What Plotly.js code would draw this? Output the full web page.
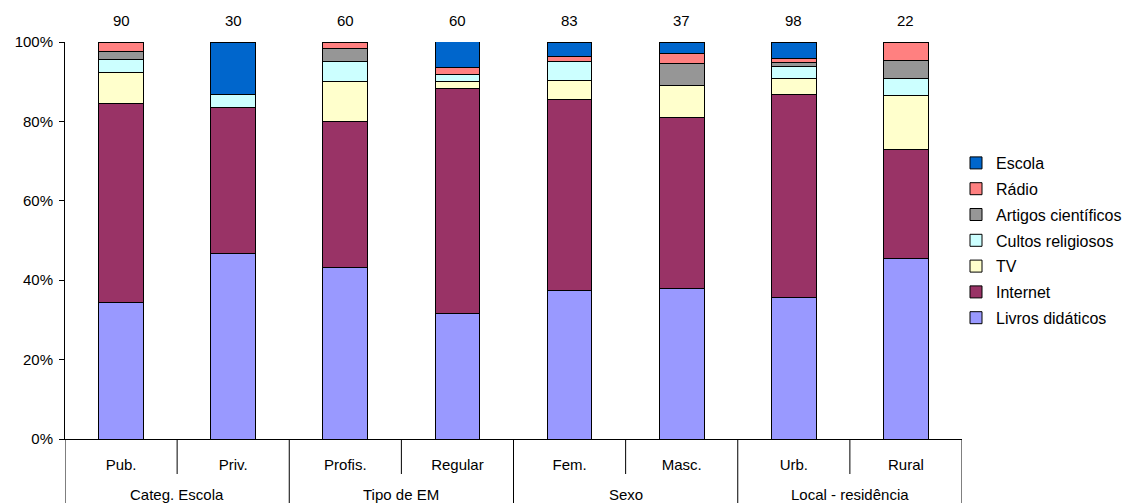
<!DOCTYPE html>
<html>
<head>
<meta charset="utf-8">
<script src="https://cdn.plot.ly/plotly-3.0.1.min.js"></script>
<style>
  html, body { margin: 0; padding: 0; background: #fff; }
  #chart { width: 1123px; height: 503px; }
</style>
</head>
<body>
<div id="chart"></div>
<script>
// Categories on the x axis and the group each pair belongs to
const categories = ['Pub.', 'Priv.', 'Profis.', 'Regular', 'Fem.', 'Masc.', 'Urb.', 'Rural'];
const groups = ['Categ. Escola', 'Tipo de EM', 'Sexo', 'Local - residência'];
const counts = [90, 30, 60, 60, 83, 37, 98, 22];

// Share of answers (%) per source of information
const livros   = [34.4, 46.7, 43.3, 31.7, 37.3, 37.8, 35.7, 45.5];
const internet = [50.0, 36.7, 36.7, 56.7, 48.2, 43.2, 51.0, 27.3];
const tv       = [7.8, 0, 10.0, 1.7, 4.8, 8.1, 4.1, 13.6];
const cultos   = [3.3, 3.3, 5.0, 1.7, 4.8, 0, 3.1, 4.5];
const artigos  = [2.2, 0, 3.3, 0, 0, 5.4, 1.0, 4.5];
const radio    = [2.2, 0, 1.7, 1.7, 1.2, 2.7, 1.0, 4.5];
const escola   = [0, 13.3, 0, 6.7, 3.6, 2.7, 4.1, 0];

const series = [
  { name: 'Livros didáticos', y: livros, color: '#9999FF' },
  { name: 'Internet', y: internet, color: '#993366' },
  { name: 'TV', y: tv, color: '#FFFFCC' },
  { name: 'Cultos religiosos', y: cultos, color: '#CCFFFF' },
  { name: 'Artigos científicos', y: artigos, color: '#969696' },
  { name: 'Rádio', y: radio, color: '#FF8080' },
  { name: 'Escola', y: escola, color: '#0066CC' }
];

const FONT = 'Liberation Sans, Arial, sans-serif';

const traces = series.map((s, i) => ({
  type: 'bar',
  name: s.name,
  x: categories,
  y: s.y,
  width: 0.4,
  legendgroup: 'g' + i,
  legendrank: 100 - i,           // top of the stack first in the legend
  marker: { color: s.color, line: { color: '#000', width: 1 } },
  hoverinfo: 'skip'
}));

// Pixel geometry of the plot frame
const plotH = 503 - 42 - 64;
const px = v => v / plotH;

const shapes = [];
// Separators below the axis: short between categories, full between groups
for (let i = 0; i <= categories.length; i++) {
  const isGroupEdge = i % 2 === 0;
  shapes.push({
    type: 'line', xref: 'x', yref: 'paper',
    x0: i - 0.5, x1: i - 0.5,
    y0: 0, y1: isGroupEdge ? -px(66) : -px(35),
    line: { color: '#000', width: 1 }
  });
}

const annotations = [];
groups.forEach((g, i) => {
  annotations.push({
    xref: 'x', yref: 'paper', x: 2 * i + 0.5, y: -px(55),
    text: g, showarrow: false, yanchor: 'middle', xanchor: 'center',
    font: { family: FONT, size: 15, color: '#000' }
  });
});
categories.forEach((c, i) => {
  annotations.push({
    xref: 'x', yref: 'paper', x: c, y: 1 + px(22),
    text: String(counts[i]), showarrow: false, yanchor: 'middle', xanchor: 'center',
    font: { family: FONT, size: 15, color: '#000' }
  });
});

const layout = {
  width: 1123, height: 503,
  margin: { l: 65, r: 161, t: 42, b: 64, pad: 0, autoexpand: false },
  paper_bgcolor: '#fff', plot_bgcolor: '#fff',
  barmode: 'stack',
  font: { family: FONT, size: 15, color: '#000' },
  showlegend: true,
  legend: {
    xref: 'container', yref: 'container',
    x: 956 / 1123, y: 1 - 146 / 503, xanchor: 'left', yanchor: 'top',
    traceorder: 'grouped', tracegroupgap: 2,
    font: { family: FONT, size: 16, color: '#000' },
    bgcolor: 'rgba(0,0,0,0)'
  },
  xaxis: {
    type: 'category',
    range: [-0.5, categories.length - 0.5],
    showline: true, linecolor: '#000', linewidth: 1,
    ticks: '', ticklabelstandoff: 12,
    showgrid: false, zeroline: false, fixedrange: true,
    tickfont: { family: FONT, size: 15, color: '#000' }
  },
  yaxis: {
    range: [0, 100], dtick: 20, ticksuffix: '%',
    showline: true, linecolor: '#000', linewidth: 1,
    ticks: 'outside', ticklen: 5, tickcolor: '#000',
    ticklabelstandoff: 3,
    showgrid: false, zeroline: false, fixedrange: true,
    tickfont: { family: FONT, size: 15, color: '#000' }
  },
  shapes: shapes,
  annotations: annotations
};

Plotly.newPlot('chart', traces, layout, { displayModeBar: false, staticPlot: true });
</script>
</body>
</html>
